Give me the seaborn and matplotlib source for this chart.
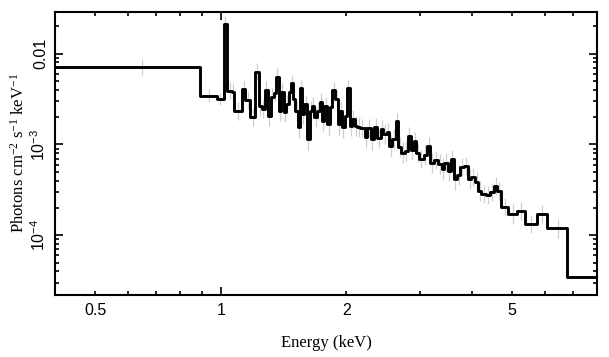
import numpy as np
import pandas as pd
import matplotlib
matplotlib.use("Agg")
import matplotlib.pyplot as plt
import seaborn as sns

# ---- data (bin edges in keV, flux per bin) ----
bin_edges = [0.40, 0.8916, 0.978, 1.018, 1.034, 1.066, 1.078, 1.124, 1.144, 1.177, 1.210,
             1.232, 1.255, 1.274, 1.298, 1.320, 1.339, 1.359, 1.377, 1.395, 1.415,
             1.436, 1.455, 1.474, 1.491, 1.510, 1.530, 1.553, 1.567, 1.588, 1.612,
             1.635, 1.657, 1.678, 1.703, 1.728, 1.752, 1.774, 1.801, 1.827, 1.851,
             1.885, 1.910, 1.931, 1.957, 1.982, 2.012, 2.038, 2.069, 2.096, 2.127,
             2.158, 2.214, 2.248, 2.289, 2.332, 2.376, 2.420, 2.457, 2.502, 2.534,
             2.582, 2.630, 2.664, 2.715, 2.765, 2.807, 2.859, 2.902, 2.944, 2.993,
             3.067, 3.124, 3.182, 3.253, 3.326, 3.389, 3.439, 3.504, 3.568, 3.622,
             3.690, 3.758, 3.830, 3.929, 3.988, 4.078, 4.153, 4.216, 4.335, 4.439,
             4.539, 4.607, 4.710, 4.905, 5.147, 5.381, 5.752, 6.079, 6.792, 8.50]

flux = [0.00717, 0.00345, 0.00316, 0.0214, 0.00392, 0.00375, 0.00236, 0.00409, 0.00309, 0.00202,
        0.00636, 0.00268, 0.00246, 0.00399, 0.00208, 0.00331, 0.00366, 0.00560, 0.00236, 0.00375,
        0.00226, 0.00280, 0.00375, 0.00472, 0.00318, 0.00236, 0.00154, 0.00420, 0.00217, 0.00280,
        0.00115, 0.00236, 0.00268, 0.00199, 0.00236, 0.00291, 0.00183, 0.00268, 0.00168, 0.00256,
        0.00399, 0.00318, 0.00168, 0.00236, 0.00154, 0.00208, 0.00420, 0.00161, 0.00191, 0.00161,
        0.00154, 0.00152, 0.00122, 0.00152, 0.00115, 0.00157, 0.00119, 0.00148, 0.00130, 0.00136,
        0.000967, 0.00115, 0.00180, 0.000927, 0.000816, 0.000852, 0.00125, 0.000867, 0.00110, 0.000816,
        0.000690, 0.000769, 0.000967, 0.000633, 0.000672, 0.000617, 0.000535, 0.000633, 0.000512, 0.000690,
        0.000415, 0.000463, 0.000567, 0.000582, 0.000415, 0.000440, 0.000390, 0.000308, 0.000283, 0.000278,
        0.000302, 0.000350, 0.000308, 0.000205, 0.000170, 0.000185, 0.000132, 0.000170, 0.000119, 3.45e-5]

# half-length of the grey error bars, in dex
err_dex = [0.09, 0.07, 0.07, 0.08, 0.09, 0.10, 0.10, 0.09, 0.10, 0.10,
           0.09, 0.11, 0.10, 0.10, 0.11, 0.10, 0.09, 0.09, 0.11, 0.10,
           0.11, 0.10, 0.09, 0.09, 0.10, 0.11, 0.12, 0.09, 0.11, 0.10,
           0.12, 0.11, 0.10, 0.11, 0.10, 0.10, 0.11, 0.10, 0.12, 0.10,
           0.09, 0.10, 0.12, 0.10, 0.12, 0.11, 0.09, 0.11, 0.10, 0.11,
           0.11, 0.10, 0.12, 0.10, 0.12, 0.10, 0.11, 0.10, 0.11, 0.10,
           0.12, 0.11, 0.09, 0.11, 0.12, 0.11, 0.10, 0.11, 0.10, 0.11,
           0.10, 0.11, 0.10, 0.11, 0.10, 0.11, 0.12, 0.10, 0.11, 0.10,
           0.12, 0.11, 0.10, 0.10, 0.11, 0.10, 0.11, 0.11, 0.10, 0.10,
           0.10, 0.10, 0.10, 0.10, 0.11, 0.10, 0.10, 0.10, 0.10, 0.10]

x_major = [1]
x_minor = [0.4, 0.5, 0.6, 0.7, 0.8, 0.9, 2, 3, 4, 5, 6, 7, 8]
x_minor_labels = {0.5: "0.5", 2: "2", 5: "5"}
y_major = [1e-4, 1e-3, 1e-2]
y_major_labels = [r"$\mathregular{10^{-4}}$", r"$\mathregular{10^{-3}}$", "0.01"]

sns.set_style("ticks")
plt.rcParams["font.family"] = ["Liberation Sans", "DejaVu Sans"]

fig = plt.figure(figsize=(6.09, 3.57), dpi=100)
ax = fig.add_axes([55 / 609, 1 - 295 / 357, (597 - 55) / 609, (295 - 11.7) / 357])
ax.set_xscale("log")
ax.set_yscale("log")

edges = np.array(bin_edges)
vals = np.array(flux)
mids = 0.5 * (edges[:-1] + edges[1:])
err = np.array(err_dex)
ax.vlines(mids[:-1], (vals * 10 ** (-err))[:-1], (vals * 10 ** err)[:-1],
          color="#cfcfcf", linewidth=0.9, zorder=1)

df = pd.DataFrame({"energy": edges, "flux": np.append(vals, vals[-1])})
sns.lineplot(data=df, x="energy", y="flux", drawstyle="steps-post", color="black",
             linewidth=2.1, estimator=None, sort=False, ax=ax, zorder=3)

ax.set_xlim(0.4, 8.0)

ax.set_xticks(x_major)
ax.set_xticklabels(["1"])
ax.set_xticks(x_minor, minor=True)
ax.set_xticklabels([x_minor_labels.get(v, "") for v in x_minor], minor=True)

y_minor = [m * 10.0 ** e for e in (-5, -4, -3, -2) for m in range(2, 10)]
ax.set_yticks(y_major)
ax.set_yticklabels(y_major_labels, rotation=90, va="center")
ax.set_yticks(y_minor, minor=True)
ax.set_yticklabels([], minor=True)
ax.set_ylim(2.2e-5, 0.029)

ax.tick_params(which="both", direction="in", top=True, right=True, width=1.2,
               color="black", labelsize=11.5, labelcolor="black")
ax.tick_params(axis="x", which="both", pad=6)
ax.tick_params(axis="y", which="both", pad=5)
ax.tick_params(which="major", length=5.5)
ax.tick_params(which="minor", length=3)
for s in ax.spines.values():
    s.set_linewidth(1.5)
    s.set_color("black")
    s.set_visible(True)

serif = ["Liberation Serif", "DejaVu Serif"]
ax.set_xlabel("Energy (keV)", fontsize=12, labelpad=12, color="black", family=serif)
ax.set_ylabel(r"Photons cm$\mathregular{^{-2}}$ s$\mathregular{^{-1}}$ keV$\mathregular{^{-1}}$",
              fontsize=12, labelpad=1, color="black", family=serif)

fig.savefig("out.png", dpi=100)
